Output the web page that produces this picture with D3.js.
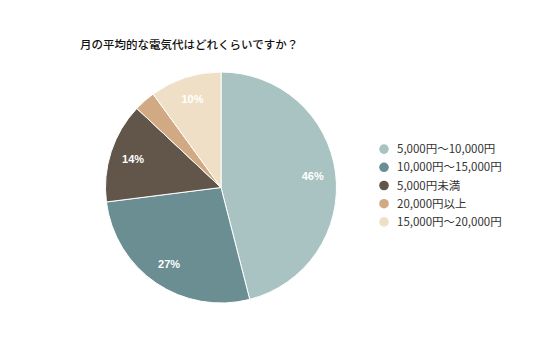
<!DOCTYPE html>
<html><head><meta charset="utf-8">
<script src="https://cdn.jsdelivr.net/npm/d3@7"></script>
<style>body{margin:0;background:#fff;}svg{display:block;}</style>
</head><body>
<svg id="chart" width="536" height="357"></svg>
<script>
const title = "月の平均的な電気代はどれくらいですか？";
const categories = ["5,000円～10,000円","10,000円～15,000円","5,000円未満","20,000円以上","15,000円～20,000円"];
const values = [46, 27, 14, 3, 10];
const colors = ["#a9c3c3","#6b8e92","#62564b","#d1aa84","#efdfc6"];

const svg = d3.select("#chart");
const font = "'Noto Sans CJK JP', 'Noto Sans', sans-serif";
svg.append("rect").attr("width",536).attr("height",357).attr("fill","#fff");

svg.append("text").attr("x",80).attr("y",49).text(title)
  .attr("font-family",font).attr("font-size",11.5).attr("font-weight",500).attr("fill","#111");

const cx = 221, cy = 187.5, R = 115.5;
const data = categories.map((c,i)=>({c, v: values[i], col: colors[i]}));
const pie = d3.pie().value(d=>d.v).sort(null);
const arc = d3.arc().innerRadius(0).outerRadius(R);
const labelArc = d3.arc().innerRadius(R*0.8).outerRadius(R*0.8);
const g = svg.append("g").attr("transform",`translate(${cx},${cy})`);
const arcs = pie(data);
g.selectAll("path").data(arcs).enter().append("path")
  .attr("d",arc).attr("fill",d=>d.data.col).attr("stroke","#fff").attr("stroke-width",1);
g.selectAll("text").data(arcs.filter(d=>d.data.v>=5)).enter().append("text")
  .attr("transform",d=>`translate(${labelArc.centroid(d)})`)
  .attr("text-anchor","middle").attr("dy","0.35em")
  .attr("font-family","Arial, 'Liberation Sans', sans-serif").attr("font-weight","bold")
  .attr("font-size",11).attr("fill","#fff")
  .text(d=>d.data.v+"%");

const legend = svg.append("g");
const ly = d3.scaleBand().domain(categories).range([140, 231]);
const items = legend.selectAll("g").data(data).enter().append("g")
  .attr("transform",d=>`translate(384,${ly(d.c)+ly.bandwidth()/2})`);
items.append("circle").attr("r",4.8).attr("fill",d=>d.col);
items.append("text").attr("x",13).attr("dy","0.36em").text(d=>d.c)
  .attr("font-family",font).attr("font-size",11.5).attr("fill","#333");
</script>
</body></html>
